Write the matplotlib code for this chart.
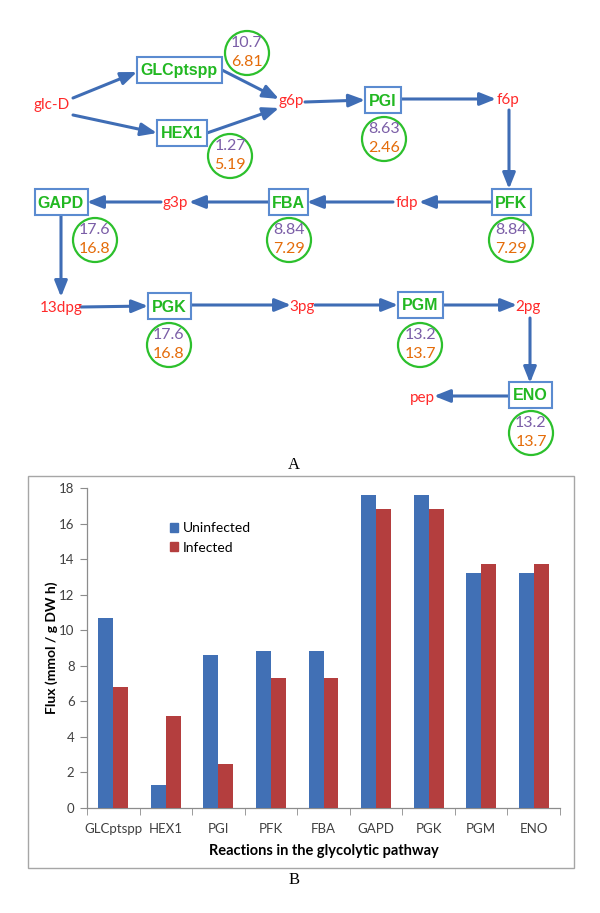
import numpy as np
import matplotlib.pyplot as plt
from matplotlib.patches import Rectangle, Circle, Patch

# ---- data ----
reactions = ['GLCptspp', 'HEX1', 'PGI', 'PFK', 'FBA', 'GAPD', 'PGK', 'PGM', 'ENO']
uninfected = [10.7, 1.27, 8.63, 8.84, 8.84, 17.6, 17.6, 13.2, 13.2]
infected = [6.81, 5.19, 2.46, 7.29, 7.29, 16.8, 16.8, 13.7, 13.7]
series = ['Uninfected', 'Infected']
metabolites = ['glc-D', 'g6p', 'f6p', 'fdp', 'g3p', '13dpg', '3pg', '2pg', 'pep']
y_ticks = [0, 2, 4, 6, 8, 10, 12, 14, 16, 18]

# ---- diagram layout (pixel coords, y down) ----
W, H = 600, 913
met_pos = {'glc-D': (52, 105), 'g6p': (291, 101), 'f6p': (508, 100),
           'fdp': (407, 203), 'g3p': (175, 203), '13dpg': (61, 308),
           '3pg': (302, 307), '2pg': (528, 307), 'pep': (422, 398)}
box_pos = {'GLCptspp': (179, 70, 85), 'HEX1': (182, 133, 50),
           'PGI': (383, 100, 36), 'PFK': (511, 202, 39),
           'FBA': (288, 202, 39), 'GAPD': (61, 202, 53),
           'PGK': (169, 306, 43), 'PGM': (420, 305, 45),
           'ENO': (530, 395, 43)}
circ_pos = {'GLCptspp': (247, 53), 'HEX1': (230, 156), 'PGI': (384, 139),
            'PFK': (511, 240), 'FBA': (289, 240), 'GAPD': (95, 240),
            'PGK': (169, 345), 'PGM': (420, 345), 'ENO': (531, 433)}
arrows = [((73, 98), (137, 72)), ((73, 115), (157, 133)),
          ((222, 70), (279, 99)), ((207, 133), (279, 108)),
          ((305, 102), (365, 100)), ((401, 99), (496, 99)),
          ((509, 110), (509, 189)), ((491, 202), (419, 202)),
          ((393, 202), (307, 202)), ((268, 202), (189, 202)),
          ((161, 202), (87, 202)), ((61, 215), (61, 297)),
          ((81, 307), (148, 306)), ((190, 305), (291, 305)),
          ((315, 305), (398, 305)), ((442, 305), (517, 305)),
          ((530, 318), (530, 383)), ((509, 396), (434, 396))]

ARROW = '#3f6db5'
BOXEDGE = '#5b8bd0'
GREEN = '#22b822'
RED = '#ff2a2a'
PURPLE = '#7b5ea7'
ORANGE = '#e46c0a'
BLUE = '#4170b5'
DKRED = '#b43e3e'
AXGREY = '#8c8c8c'

fig = plt.figure(figsize=(W / 100, H / 100), dpi=100)
bg = fig.add_axes([0, 0, 1, 1])
bg.set_xlim(0, W)
bg.set_ylim(H, 0)
bg.axis('off')

for start, end in arrows:
    bg.annotate('', xy=end, xytext=start,
                arrowprops=dict(arrowstyle='-|>,head_length=0.6,head_width=0.24',
                                color=ARROW, lw=2.2, mutation_scale=16,
                                shrinkA=0, shrinkB=0))

for name in metabolites:
    x, y = met_pos[name]
    bg.text(x, y, name, ha='center', va='center', color=RED,
            fontsize=11, family='Lato', zorder=5)

for i, name in enumerate(reactions):
    cx, cy, w = box_pos[name]
    bg.add_patch(Rectangle((cx - w / 2, cy - 13), w, 26, facecolor='white',
                           edgecolor=BOXEDGE, lw=1.5, zorder=4))
    bg.text(cx, cy + 1, name, ha='center', va='center', color=GREEN,
            fontsize=11.5, weight='bold', family='Liberation Sans', zorder=5)
    px, py = circ_pos[name]
    bg.add_patch(Circle((px, py), 22, facecolor='white', edgecolor='#2cc02c',
                        lw=1.6, zorder=4))
    bg.text(px, py - 10, f'{uninfected[i]:g}', ha='center', va='center',
            color=PURPLE, fontsize=11.5, family='Lato', zorder=5)
    bg.text(px, py + 9, f'{infected[i]:g}', ha='center', va='center',
            color=ORANGE, fontsize=11.5, family='Lato', zorder=5)

bg.text(294, 465, 'A', ha='center', va='center', fontsize=12,
        family='Liberation Serif')
bg.text(294, 880, 'B', ha='center', va='center', fontsize=12,
        family='Liberation Serif')

# outer frame of the chart
bg.add_patch(Rectangle((28, 476), 546, 392, fill=False, edgecolor='#a6a6a6',
                       lw=1.0))

# ---- bar chart ----
ax = fig.add_axes([87 / W, 1 - 808 / H, (560 - 87) / W, (808 - 488) / H])
ax.patch.set_alpha(0)
x = np.arange(len(reactions))
bw = 0.285
ax.bar(x - bw / 2, uninfected, bw, color=BLUE, zorder=3)
ax.bar(x + bw / 2, infected, bw, color=DKRED, zorder=3)
ax.set_xlim(-0.5, len(reactions) - 0.5)
ax.set_ylim(0, 18)

for s in ['top', 'right']:
    ax.spines[s].set_visible(False)
for s in ['left', 'bottom']:
    ax.spines[s].set_color(AXGREY)
    ax.spines[s].set_linewidth(0.9)

ax.set_yticks(y_ticks)
ax.set_yticklabels([str(t) for t in y_ticks])
ax.set_xticks(x)
ax.set_xticklabels(reactions)
ax.set_xticks(np.arange(len(reactions) + 1) - 0.5, minor=True)
ax.tick_params(axis='x', which='major', length=0, pad=11)
ax.tick_params(axis='x', which='minor', length=5, color=AXGREY, direction='out')
ax.tick_params(axis='y', length=5, color=AXGREY, direction='out', pad=4)
for lab in ax.get_xticklabels() + ax.get_yticklabels():
    lab.set_family('Lato')
    lab.set_fontsize(9.5)
    lab.set_color('#404040')

ax.set_ylabel('Flux (mmol / g DW h)', fontsize=10, weight='bold',
              family='Lato', va='center')
ax.yaxis.set_label_coords(-0.074, 0.5)
ax.set_xlabel('Reactions in the glycolytic pathway', fontsize=10.5,
              weight='bold', family='Lato', va='center')
ax.xaxis.set_label_coords(0.5, (808 - 851) / 320)

handles = [Patch(color=BLUE), Patch(color=DKRED)]
ax.legend(handles, series, loc='upper left', bbox_to_anchor=(170 / W, 1 - 522 / H),
          bbox_transform=fig.transFigure, frameon=False, handlelength=0.6,
          handleheight=0.6, handletextpad=0.35, labelspacing=0.55,
          borderpad=0, borderaxespad=0,
          prop={'family': 'Lato', 'size': 10})

fig.savefig('out.png', dpi=100)
